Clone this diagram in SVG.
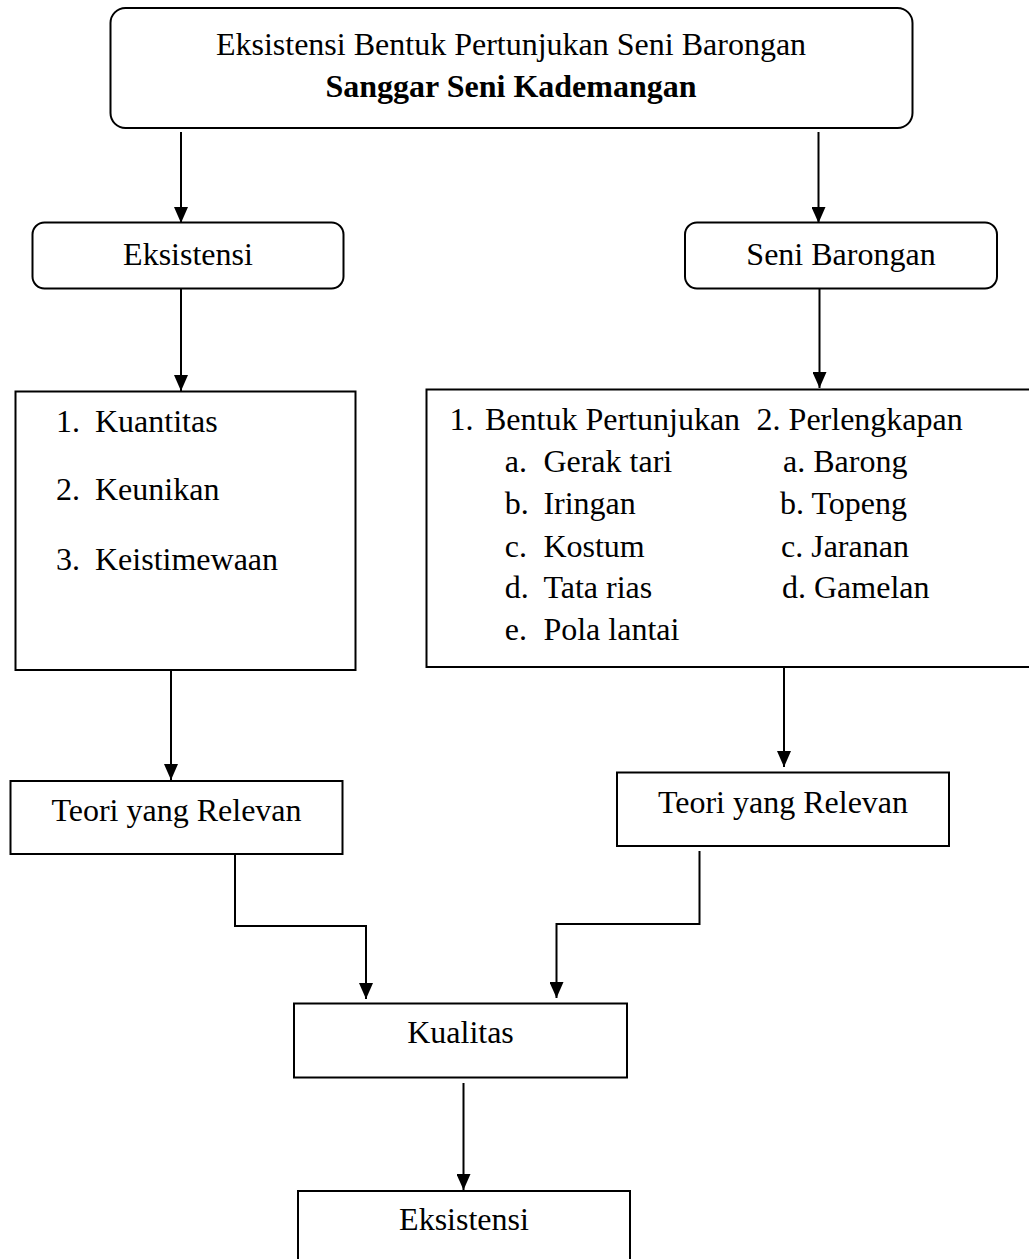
<svg xmlns="http://www.w3.org/2000/svg" width="1029" height="1259" viewBox="0 0 1029 1259">
<style>
  .box { fill: #ffffff; stroke: #000000; stroke-width: 2; }
  .t { font-family: "Liberation Serif", "Times New Roman", serif; font-size: 32px; fill: #000000; }
  .c { text-anchor: middle; }
  .b { font-weight: bold; }
  .edge { fill: none; stroke: #000000; stroke-width: 2; marker-end: url(#arrow); }
</style>
<defs>
  <marker id="arrow" viewBox="0 0 16 14" refX="16" refY="7" markerWidth="16" markerHeight="14" markerUnits="userSpaceOnUse" orient="auto">
    <path d="M0,0 L16,7 L0,14 Z" fill="#000000"/>
  </marker>
</defs>
<rect width="1029" height="1259" fill="#ffffff"/>

<g id="connectors">
  <path class="edge" d="M181,132 L181,223"/>
  <path class="edge" d="M818.5,132 L818.5,223"/>
  <path class="edge" d="M181,288.5 L181,391"/>
  <path class="edge" d="M819.5,285 L819.5,388"/>
  <path class="edge" d="M171,670 L171,780"/>
  <path class="edge" d="M784,667 L784,767"/>
  <path class="edge" d="M235,854 L235,926 L366,926 L366,999"/>
  <path class="edge" d="M699.5,851 L699.5,924 L556.5,924 L556.5,998"/>
  <path class="edge" d="M463.5,1083 L463.5,1190"/>
</g>

<g id="node-title">
  <rect class="box" x="110.5" y="8" width="802" height="120" rx="15" ry="15"/>
  <text class="t c" x="511" y="55">Eksistensi Bentuk Pertunjukan Seni Barongan</text>
  <text class="t c b" x="511" y="96.5">Sanggar Seni Kademangan</text>
</g>

<g id="node-eksistensi">
  <rect class="box" x="32.5" y="222.5" width="311" height="66" rx="12" ry="12"/>
  <text class="t c" x="188" y="265">Eksistensi</text>
</g>

<g id="node-seni-barongan">
  <rect class="box" x="685" y="222.5" width="312" height="66" rx="12" ry="12"/>
  <text class="t c" x="841" y="265">Seni Barongan</text>
</g>

<g id="node-list-left">
  <rect class="box" x="15.5" y="391.5" width="340" height="278.5"/>
  <text class="t" x="56" y="431.5">1.</text>
  <text class="t" x="95" y="431.5">Kuantitas</text>
  <text class="t" x="56" y="500">2.</text>
  <text class="t" x="95" y="500">Keunikan</text>
  <text class="t" x="56" y="570">3.</text>
  <text class="t" x="95" y="570">Keistimewaan</text>
</g>

<g id="node-list-right">
  <rect class="box" x="426.5" y="389.5" width="620" height="277.5"/>
  <text class="t" x="449.5" y="429.5">1.</text>
  <text class="t" x="485" y="429.5">Bentuk Pertunjukan</text>
  <text class="t" x="756.6" y="429.5">2. Perlengkapan</text>
  <text class="t" x="504.7" y="471.7">a.</text>
  <text class="t" x="543.4" y="471.7">Gerak tari</text>
  <text class="t" x="504.7" y="514">b.</text>
  <text class="t" x="543.4" y="514">Iringan</text>
  <text class="t" x="504.7" y="556.7">c.</text>
  <text class="t" x="543.4" y="556.7">Kostum</text>
  <text class="t" x="504.7" y="598.3">d.</text>
  <text class="t" x="543.4" y="598.3">Tata rias</text>
  <text class="t" x="504.7" y="640">e.</text>
  <text class="t" x="543.4" y="640">Pola lantai</text>
  <text class="t" x="783" y="471.7">a. Barong</text>
  <text class="t" x="780" y="514">b. Topeng</text>
  <text class="t" x="781" y="556.7">c. Jaranan</text>
  <text class="t" x="782" y="598.3">d. Gamelan</text>
</g>

<g id="node-teori-left">
  <rect class="box" x="10.5" y="781" width="332" height="73"/>
  <text class="t c" x="176.5" y="820.5">Teori yang Relevan</text>
</g>

<g id="node-teori-right">
  <rect class="box" x="617" y="772.5" width="332" height="73.5"/>
  <text class="t c" x="783" y="812.5">Teori yang Relevan</text>
</g>

<g id="node-kualitas">
  <rect class="box" x="294" y="1003.5" width="333" height="74"/>
  <text class="t c" x="460.5" y="1043">Kualitas</text>
</g>

<g id="node-eksistensi-bottom">
  <rect class="box" x="298" y="1191" width="332" height="100"/>
  <text class="t c" x="464" y="1230">Eksistensi</text>
</g>
</svg>
